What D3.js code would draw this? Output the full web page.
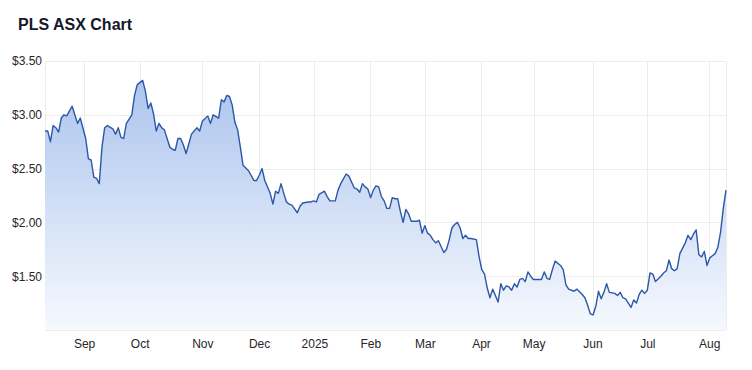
<!DOCTYPE html>
<html>
<head>
<meta charset="utf-8">
<script src="https://cdn.jsdelivr.net/npm/d3@7"></script>
<style>
	html, body { margin: 0; padding: 0; background: #fff; }
	svg { display: block; font-family: "Liberation Sans", Arial, Helvetica, sans-serif; }
	.grid line { stroke: #ececec; stroke-width: 1; shape-rendering: crispEdges; }
	.axis text { fill: #262626; font-size: 12px; }
</style>
</head>
<body>
<div id="chart"></div>
<script>
// trading-day index (from mid Aug 2024) and closing price in AUD
const tradingDays = [
	0, 1, 2, 3, 4, 5, 6, 7, 8, 10, 12, 13, 15, 16, 17, 18, 19, 20, 21, 22,
	23, 25, 26, 27, 28, 29, 30, 31, 32, 33, 34, 36, 37, 38, 39, 40, 41, 42, 43, 44,
	46, 47, 48, 49, 50, 51, 52, 54, 56, 57, 58, 60, 61, 62, 64, 65, 66, 67, 68, 69,
	70, 71, 72, 73, 75, 77, 78, 79, 80, 81, 83, 84, 85, 86, 87, 88, 89, 90, 91, 93,
	94, 95, 97, 98, 99, 100, 101, 103, 104, 105, 107, 108, 109, 111, 112, 114, 115, 116, 117, 118,
	119, 120, 121, 122, 123, 124, 125, 126, 127, 128, 129, 130, 131, 132, 133, 134, 135, 137, 138, 139,
	140, 141, 142, 143, 144, 145, 147, 148, 149, 150, 151, 152, 153, 154, 155, 156, 157, 159, 160, 161,
	162, 163, 164, 165, 167, 168, 169, 170, 171, 172, 173, 174, 175, 176, 177, 178, 179, 180, 181, 183,
	184, 185, 186, 187, 188, 190, 191, 192, 193, 195, 196, 198, 199, 200, 201, 202, 203, 204, 205, 206,
	207, 208, 210, 211, 212, 213, 214, 215, 216, 217, 218, 219, 220, 221, 222, 223, 224, 225, 227, 228,
	229, 230, 231, 232, 233, 234, 236, 237, 238, 239, 240, 241, 242, 243, 244, 245, 246, 247, 248, 249,
	250, 251
];
const closes = [
	2.85, 2.85, 2.75, 2.90, 2.88, 2.84, 2.97, 3.00, 2.99, 3.08, 2.92, 2.97, 2.78, 2.59, 2.58, 2.42, 2.41, 2.36, 2.70, 2.88,
	2.90, 2.87, 2.82, 2.88, 2.79, 2.78, 2.92, 2.96, 3.00, 3.18, 3.28, 3.32, 3.22, 3.06, 3.11, 3.01, 2.85, 2.92, 2.88, 2.86,
	2.70, 2.68, 2.67, 2.78, 2.78, 2.72, 2.64, 2.82, 2.88, 2.85, 2.94, 2.99, 2.92, 3.00, 2.97, 3.14, 3.12, 3.18, 3.17, 3.09,
	2.93, 2.86, 2.70, 2.53, 2.48, 2.39, 2.39, 2.44, 2.50, 2.39, 2.27, 2.17, 2.29, 2.27, 2.36, 2.27, 2.19, 2.17, 2.16, 2.09,
	2.15, 2.18, 2.19, 2.19, 2.20, 2.19, 2.26, 2.29, 2.24, 2.20, 2.20, 2.30, 2.36, 2.45, 2.43, 2.32, 2.31, 2.28, 2.36, 2.33,
	2.31, 2.23, 2.30, 2.34, 2.33, 2.24, 2.20, 2.13, 2.13, 2.23, 2.22, 2.22, 2.10, 2.00, 2.12, 2.08, 2.01, 2.01, 2.02, 1.90,
	1.97, 1.90, 1.88, 1.84, 1.81, 1.83, 1.72, 1.75, 1.84, 1.95, 1.98, 2.00, 1.95, 1.85, 1.88, 1.85, 1.85, 1.84, 1.68, 1.56,
	1.52, 1.39, 1.30, 1.38, 1.26, 1.43, 1.37, 1.41, 1.40, 1.37, 1.43, 1.40, 1.47, 1.48, 1.45, 1.54, 1.50, 1.47, 1.47, 1.47,
	1.54, 1.48, 1.47, 1.56, 1.64, 1.60, 1.56, 1.42, 1.38, 1.36, 1.38, 1.33, 1.30, 1.23, 1.15, 1.14, 1.22, 1.36, 1.29, 1.35,
	1.43, 1.35, 1.34, 1.32, 1.35, 1.30, 1.29, 1.25, 1.21, 1.28, 1.25, 1.33, 1.37, 1.34, 1.37, 1.53, 1.52, 1.45, 1.50, 1.53,
	1.55, 1.65, 1.57, 1.55, 1.57, 1.71, 1.81, 1.88, 1.84, 1.89, 1.93, 1.70, 1.68, 1.73, 1.60, 1.67, 1.69, 1.71, 1.77, 1.91,
	2.13, 2.30
];

// month boundaries on the trading-day axis
const monthTicks = [14.4, 34.9, 58.0, 78.9, 99.3, 119.9, 140.0, 160.7, 180.1, 201.8, 222.0, 244.8];
const monthLabels = ['Sep', 'Oct', 'Nov', 'Dec', '2025', 'Feb', 'Mar', 'Apr', 'May', 'Jun', 'Jul', 'Aug'];
const priceTicks = [1.5, 2.0, 2.5, 3.0, 3.5];

const width = 752;
const height = 370;
const plot = {left: 45, right: 726, top: 61, bottom: 330};

const data = tradingDays.map((d, i) => ({x: d, y: closes[i]}));

const scaleX = d3.scaleLinear()
	.domain([0, 251])
	.range([plot.left, plot.right]);

const scaleY = d3.scaleLinear()
	.domain([1.0, 3.5])
	.range([plot.bottom, plot.top]);

const svg = d3.select('#chart').append('svg')
	.attr('width', width)
	.attr('height', height);

svg.append('text')
	.attr('x', 18)
	.attr('y', 30)
	.attr('fill', '#15172b')
	.style('font-size', '16px')
	.style('font-weight', 'bold')
	.text('PLS ASX Chart');

const defs = svg.append('defs');
const grad = defs.append('linearGradient')
	.attr('id', 'areaFill')
	.attr('gradientUnits', 'userSpaceOnUse')
	.attr('x1', 0).attr('x2', 0)
	.attr('y1', plot.top).attr('y2', plot.bottom);
grad.append('stop').attr('offset', '0%').attr('stop-color', '#a6c0ec');
grad.append('stop').attr('offset', '100%').attr('stop-color', '#f6f9fe');

// grid: horizontal at price ticks + bottom edge, vertical at month starts + plot edges
const grid = svg.append('g').classed('grid', true);
grid.selectAll('line.h')
	.data([1.0].concat(priceTicks))
	.join('line')
	.attr('x1', plot.left)
	.attr('x2', plot.right)
	.attr('y1', d => Math.round(scaleY(d)) + 0.5)
	.attr('y2', d => Math.round(scaleY(d)) + 0.5);
grid.selectAll('line.v')
	.data([0, 251].concat(monthTicks))
	.join('line')
	.attr('y1', plot.top)
	.attr('y2', plot.bottom)
	.attr('x1', d => Math.round(scaleX(d)) + 0.5)
	.attr('x2', d => Math.round(scaleX(d)) + 0.5);

const area = d3.area()
	.x(d => scaleX(d.x))
	.y0(plot.bottom)
	.y1(d => scaleY(d.y));

const line = d3.line()
	.x(d => scaleX(d.x))
	.y(d => scaleY(d.y));

svg.append('path')
	.datum(data)
	.attr('fill', 'url(#areaFill)')
	.attr('d', area);

svg.append('path')
	.datum(data)
	.attr('fill', 'none')
	.attr('stroke', '#2b57a6')
	.attr('stroke-width', 1.4)
	.attr('stroke-linejoin', 'round')
	.attr('d', line);

// axes: labels only, no domain or tick marks
const axisLeft = d3.axisLeft(scaleY)
	.tickValues(priceTicks)
	.tickSize(0)
	.tickPadding(0)
	.tickFormat(d => '$' + d.toFixed(2));
svg.append('g')
	.classed('axis y-axis', true)
	.attr('transform', `translate(${plot.left - 3},0)`)
	.call(axisLeft)
	.call(g => g.select('.domain').remove());

const axisBottom = d3.axisBottom(scaleX)
	.tickValues(monthTicks)
	.tickSize(0)
	.tickPadding(9)
	.tickFormat((d, i) => monthLabels[i]);
svg.append('g')
	.classed('axis x-axis', true)
	.attr('transform', `translate(0,${plot.bottom})`)
	.call(axisBottom)
	.call(g => g.select('.domain').remove());

svg.selectAll('.axis').attr('font-family', null).attr('font-size', null);
</script>
</body>
</html>
